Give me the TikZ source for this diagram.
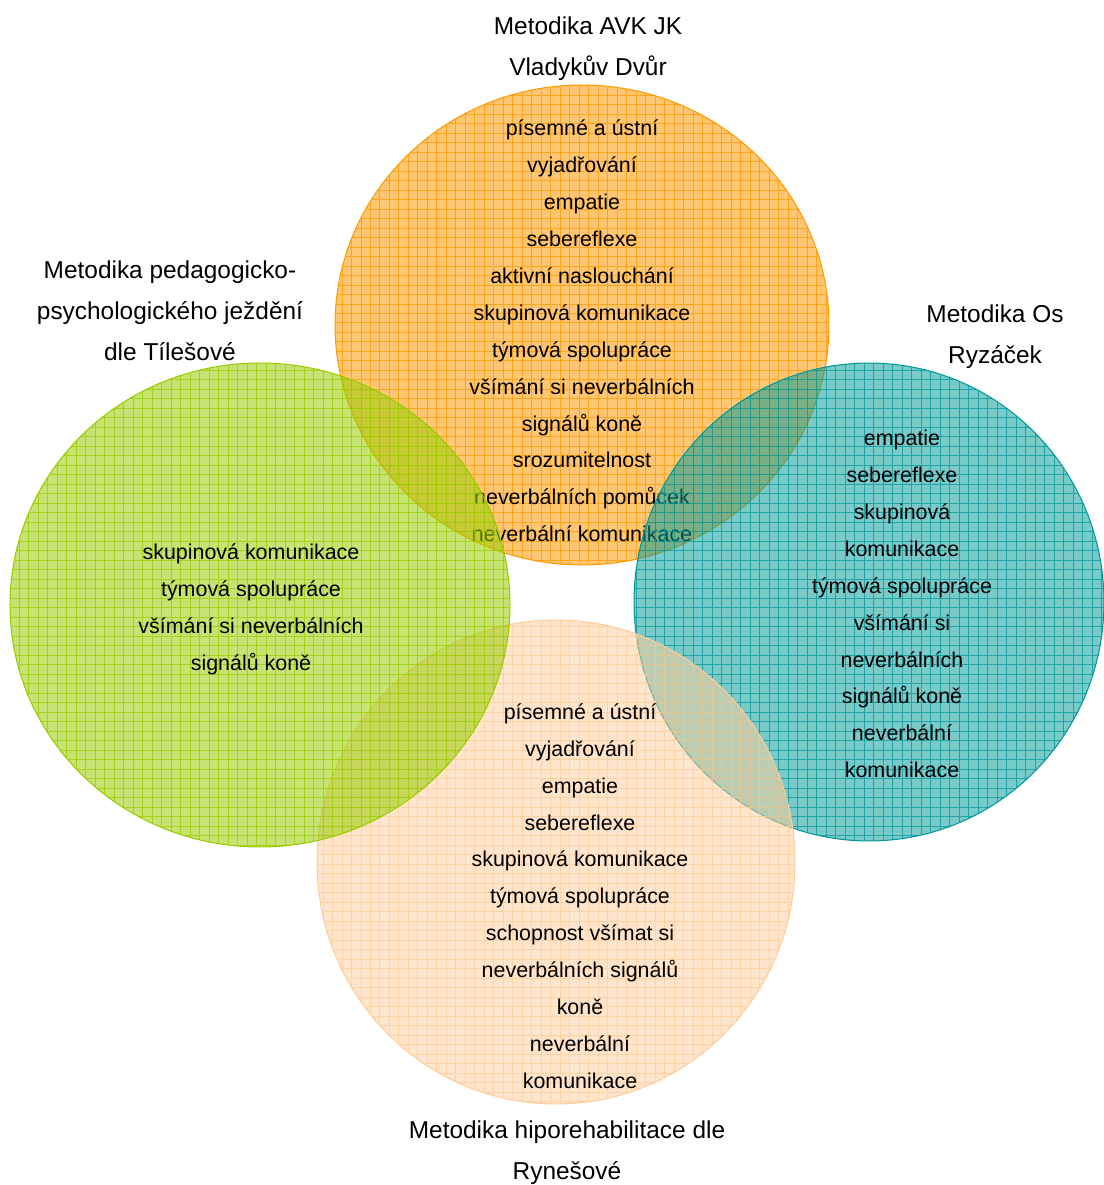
\documentclass[tikz,border=0pt]{standalone}
\usepackage{fontspec}
\setmainfont{Liberation Sans}
\definecolor{avkc}{HTML}{FF9900}
\definecolor{osc}{HTML}{009999}
\definecolor{ryc}{HTML}{FFCC99}
\definecolor{tic}{HTML}{99CC00}

\begin{document}
\begin{tikzpicture}[x=0.02cm, y=-0.02cm,
  items/.style={align=center, font=\fontsize{12.2}{21}\selectfont},
  heading/.style={align=center, font=\fontsize{13.9}{23.2}\selectfont},
  rim/.style={line width=0.6pt},
  mesh/.style={line width=0.5pt, opacity=0.75, step=0.19cm}]

  \useasboundingbox (0,0) rectangle (1103,1185);

  % Metodika AVK JK (top, orange)
  \fill[avkc, fill opacity=0.55] (582,325) ellipse [x radius=4.94cm, y radius=4.8cm];
  \begin{scope}
    \clip (582,325) ellipse [x radius=4.94cm, y radius=4.8cm];
    \draw[avkc, mesh] (320,70) grid (840,580);
  \end{scope}
  \draw[avkc, rim] (582,325) ellipse [x radius=4.94cm, y radius=4.8cm];
  \node[items] (avkitems) at (582,331) {písemné a ústní\\vyjadřování\\empatie\\sebereflexe\\aktivní naslouchání\\skupinová komunikace\\týmová spolupráce\\všímání si neverbálních\\signálů koně\\srozumitelnost\\neverbálních pomůcek\\neverbální komunikace};

  % Metodika Os Ryzáček (right, teal)
  \fill[osc, fill opacity=0.52] (869,602) ellipse [x radius=4.7cm, y radius=4.78cm];
  \begin{scope}
    \clip (869,602) ellipse [x radius=4.7cm, y radius=4.78cm];
    \draw[osc, mesh] (620,350) grid (1110,850);
  \end{scope}
  \draw[osc, rim] (869,602) ellipse [x radius=4.7cm, y radius=4.78cm];
  \node[items] (ositems) at (902,604) {empatie\\sebereflexe\\skupinová\\komunikace\\týmová spolupráce\\všímání si\\neverbálních\\signálů koně\\neverbální\\komunikace};

  % Metodika hiporehabilitace dle Rynešové (bottom, peach)
  \fill[ryc, fill opacity=0.5] (556,862) ellipse [x radius=4.78cm, y radius=4.84cm];
  \begin{scope}
    \clip (556,862) ellipse [x radius=4.78cm, y radius=4.84cm];
    \draw[ryc, mesh] (300,600) grid (810,1120);
  \end{scope}
  \draw[ryc, rim] (556,862) ellipse [x radius=4.78cm, y radius=4.84cm];
  \node[items] (ryitems) at (580,896) {písemné a ústní\\vyjadřování\\empatie\\sebereflexe\\skupinová komunikace\\týmová spolupráce\\schopnost všímat si\\neverbálních signálů\\koně\\neverbální\\komunikace};

  % Metodika pedagogicko-psychologického ježdění (left, green)
  \fill[tic, fill opacity=0.55] (260,605) ellipse [x radius=5cm, y radius=4.84cm];
  \begin{scope}
    \clip (260,605) ellipse [x radius=5cm, y radius=4.84cm];
    \draw[tic, mesh] (0,350) grid (520,860);
  \end{scope}
  \draw[tic, rim] (260,605) ellipse [x radius=5cm, y radius=4.84cm];
  \node[items] (tiitems) at (251,609) {skupinová komunikace\\týmová spolupráce\\všímání si neverbálních\\signálů koně};

  % headings
  \node[heading] (avkhead) at (588,49) {Metodika AVK JK\\Vladykův Dvůr};
  \node[heading] (tihead) at (170,311) {Metodika pedagogicko-\\psychologického ježdění\\dle Tílešové};
  \node[heading] (oshead) at (995,337) {Metodika Os\\Ryzáček};
  \node[heading] (ryhead) at (567,1153) {Metodika hiporehabilitace dle\\Rynešové};

\end{tikzpicture}
\end{document}
